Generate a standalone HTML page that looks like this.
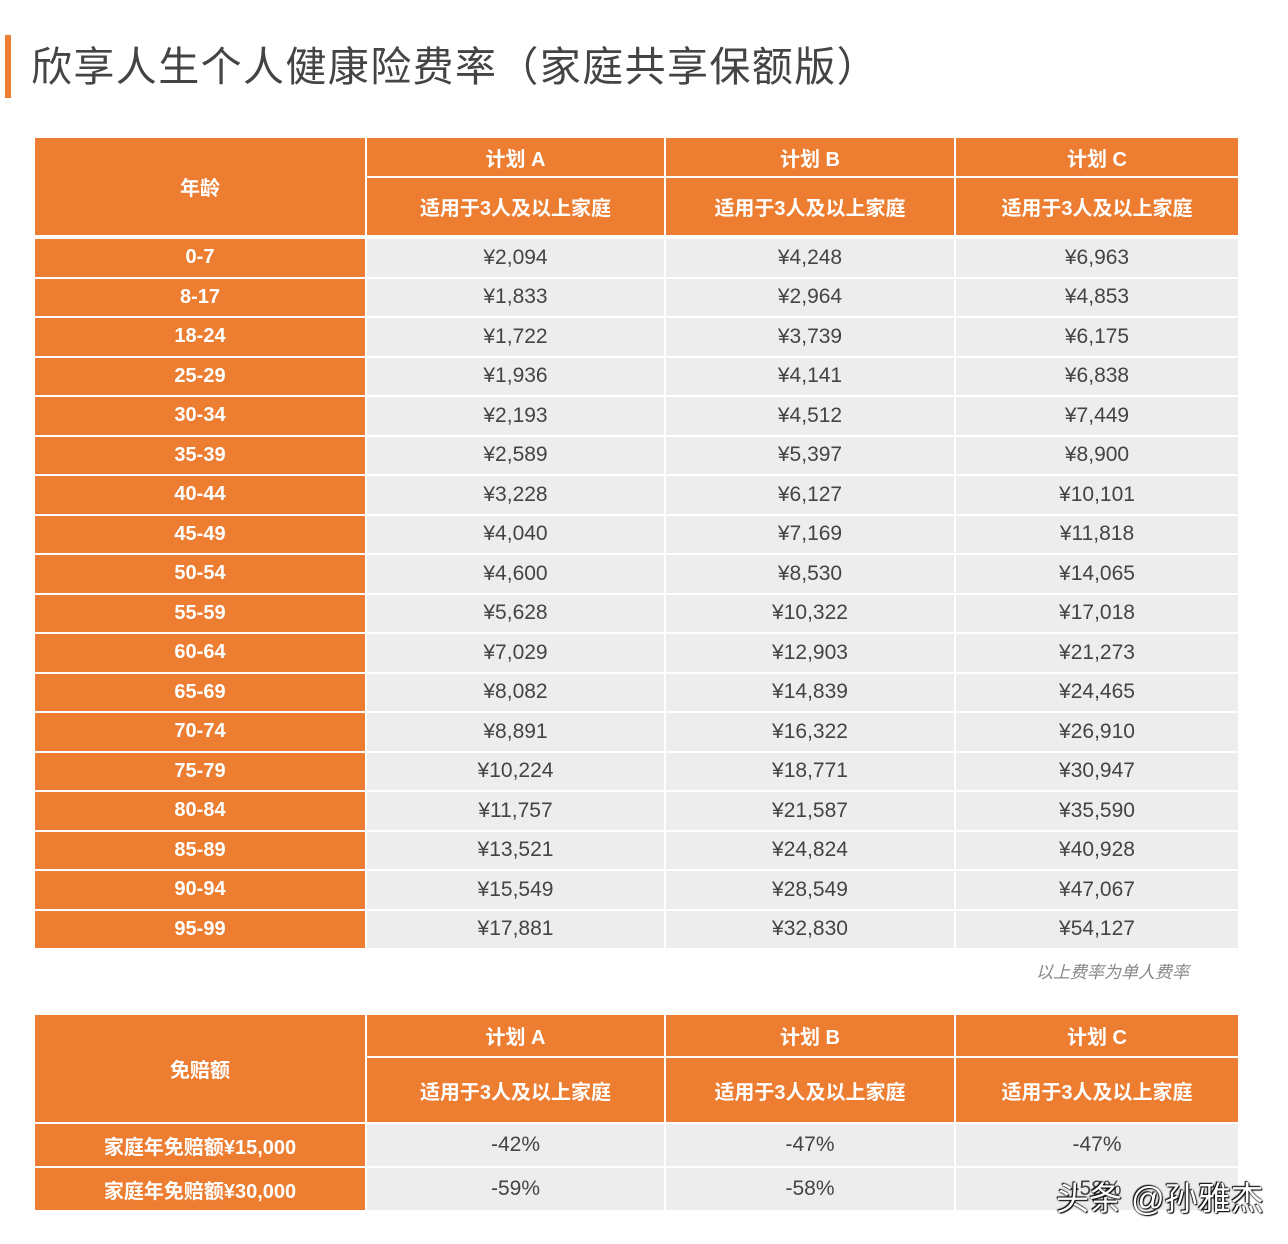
<!DOCTYPE html>
<html><head><meta charset="utf-8">
<style>
body{margin:0;width:1288px;height:1244px;background:#fff;position:relative;overflow:hidden;font-family:"Liberation Sans","Noto Sans CJK SC",sans-serif;}
.c{position:absolute;display:flex;align-items:center;justify-content:center;box-sizing:border-box;}
.o{background:#ED7D31;color:#fff;font-weight:bold;font-size:20px;}
.g{background:#EDEDED;color:#444;font-size:21px;}
</style></head><body>
<div style="position:absolute;left:5px;top:35px;width:6px;height:63px;background:#ED7D31"></div>
<div style="position:absolute;left:31px;top:42px;font-size:41px;letter-spacing:1.4px;color:#444;line-height:50px;white-space:nowrap">欣享人生个人健康险费率（家庭共享保额版）</div>
<div style="position:absolute;left:1036px;top:958px;font-size:17px;color:#888;font-style:italic">以上费率为单人费率</div>
<div id="root"></div>
<div style="position:absolute;z-index:5;left:1056px;top:1172px;font-size:33px;color:#fff;text-shadow:0 0 2px #000,1px 1px 1px #000,-1px -1px 1px #000;white-space:nowrap">头条 @孙雅杰</div>
<script>
const ages=["0-7","8-17","18-24","25-29","30-34","35-39","40-44","45-49","50-54","55-59","60-64","65-69","70-74","75-79","80-84","85-89","90-94","95-99"];
const planA=["¥2,094","¥1,833","¥1,722","¥1,936","¥2,193","¥2,589","¥3,228","¥4,040","¥4,600","¥5,628","¥7,029","¥8,082","¥8,891","¥10,224","¥11,757","¥13,521","¥15,549","¥17,881"];
const planB=["¥4,248","¥2,964","¥3,739","¥4,141","¥4,512","¥5,397","¥6,127","¥7,169","¥8,530","¥10,322","¥12,903","¥14,839","¥16,322","¥18,771","¥21,587","¥24,824","¥28,549","¥32,830"];
const planC=["¥6,963","¥4,853","¥6,175","¥6,838","¥7,449","¥8,900","¥10,101","¥11,818","¥14,065","¥17,018","¥21,273","¥24,465","¥26,910","¥30,947","¥35,590","¥40,928","¥47,067","¥54,127"];
const plans=["计划 A","计划 B","计划 C"];
const dedLabels=["家庭年免赔额¥15,000","家庭年免赔额¥30,000"];
const dedA=["-42%","-59%"],dedB=["-47%","-58%"],dedC=["-47%","-58%"];
const cols=[[35,365],[367,664],[666,954],[956,1238]];
const root=document.getElementById('root');
function cell(x,y,w,h,cls,t,name){const d=document.createElement('div');d.className='c '+cls;d.style.cssText=`left:${x}px;top:${y}px;width:${w}px;height:${h}px`;d.textContent=t;


root.appendChild(d);}
function table(top,h1,h2,corner,rowLabels,vals,rowH,prefix,extra){
 cell(35,top,330,h1+h2+2,'o',corner,prefix+'-corner-header');
 for(let i=0;i<3;i++){const[x0,x1]=cols[i+1];
  cell(x0,top,x1-x0,h1,'o',plans[i],prefix+'-plan-header');
  cell(x0,top+h1+2,x1-x0,h2,'o','适用于3人及以上家庭',prefix+'-plan-subheader');}
 let y=top+h1+h2+4+extra;
 rowLabels.forEach((l,r)=>{
  cell(35,y,330,rowH-2,'o',l,prefix+'-row-label');
  for(let i=0;i<3;i++){const[x0,x1]=cols[i+1];cell(x0,y,x1-x0,rowH-2,'g',vals[i][r],prefix+'-value-cell');}
  y+=rowH;});
}
table(138,38,57,'年龄',ages,[planA,planB,planC],39.5,'rate',2);
table(1015,41,64,'免赔额',dedLabels,[dedA,dedB,dedC],44,'deductible',0);
</script>
</body></html>
